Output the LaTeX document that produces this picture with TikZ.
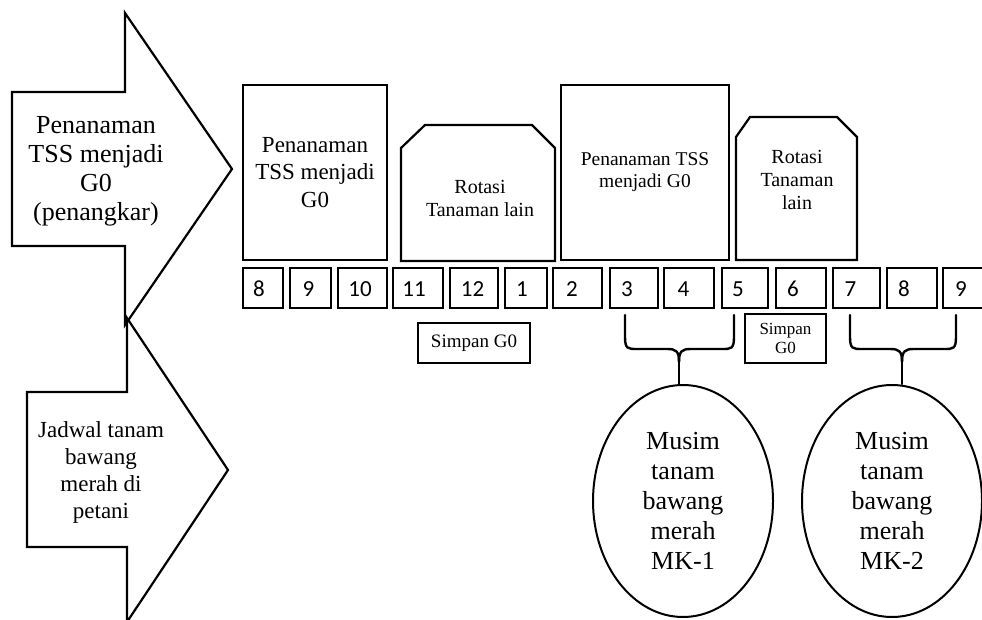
\documentclass[tikz,border=0pt]{standalone}
\usepackage{fontspec}
\setmainfont{Liberation Serif}
\newfontfamily\numfont{Carlito}
\usetikzlibrary{shapes.geometric}
\begin{document}
\begin{tikzpicture}[x=1pt,y=-1pt,line width=2.2pt,line join=miter,
  outl/.style={draw=black,fill=white,line width=2.2pt},
  rectbox/.style={outl,inner sep=0pt,align=center},
  mbox/.style={draw=black,fill=white,minimum height=40pt,inner sep=0pt,line width=2.2pt},
  numtxt/.style={font=\numfont\fontsize{23}{23}\selectfont,inner sep=0pt},
  txt/.style={align=center,inner sep=0pt},
  oval/.style={ellipse,draw=black,fill=white,line width=2pt,minimum width=180pt,minimum height=232pt,inner sep=0pt,align=center,font=\fontsize{26}{30}\selectfont},
  brace/.style={draw=black,line width=2.4pt,line cap=round}]
\fill[white] (0,0) rectangle (982,620);
\useasboundingbox (0,0) rectangle (982,620);
% big arrows
\draw[outl] (12,92) -- (125,92) -- (125,13) -- (232,169) -- (125,325) -- (125,246) -- (12,246) -- cycle;
\node[txt,font=\fontsize{26}{29}\selectfont] (a1t) at (96,171) {Penanaman\\TSS menjadi\\G0\\(penangkar)};
\draw[outl] (27,392) -- (127,392) -- (127,318) -- (228,470) -- (127,622) -- (127,547) -- (27,547) -- cycle;
\node[txt,font=\fontsize{23}{27}\selectfont] (a2t) at (101,472) {Jadwal tanam\\bawang\\merah di\\petani};
% upper boxes
\node[rectbox,minimum width=144pt,minimum height=175pt,font=\fontsize{23}{27.5}\selectfont] (b1) at (315,172.5) {Penanaman\\TSS menjadi\\G0};
\draw[outl] (401,261) -- (401,148) -- (425,125) -- (532,125) -- (555,148) -- (555,261) -- cycle;
\node[txt,font=\fontsize{20}{23}\selectfont] (b2t) at (480,198.5) {Rotasi\\Tanaman lain};
\node[rectbox,minimum width=168pt,minimum height=175pt,font=\fontsize{19.5}{22}\selectfont] (b3) at (645,172.5) {Penanaman TSS\\menjadi G0};
\draw[outl] (736,260) -- (736,137) -- (750,117) -- (837,117) -- (857,137) -- (857,260) -- cycle;
\node[txt,font=\fontsize{20}{23}\selectfont] (b4t) at (797,180) {Rotasi\\Tanaman\\lain};
% month boxes
\foreach \n/\c/\w/\t/\s in {ma/263/40/259/8, mb/310.5/41/308.5/9, mc/362.5/49/360/10, md/418/50/414/11, me/474/48/472.5/12, mf/526/42/522/1, mg/577.5/49/572/2, mh/634/48/627/3, mi/689/50/683.5/4, mj/745/46/738/5, mk/801/50/793/6, ml/856.5/47/850.5/7, mm/912/50/904/8, mn/966.5/47/961/9}{
  \node[mbox,minimum width=\w pt] (\n) at (\c,288) {};
  \node[numtxt] (\n t) at (\t,289) {\s};
}
% simpan boxes
\node[rectbox,minimum width=112pt,minimum height=40pt,font=\fontsize{19}{22}\selectfont] (s1) at (474,343) {Simpan G0};
\node[rectbox,minimum width=81pt,minimum height=49pt,font=\fontsize{17}{19}\selectfont] (s2) at (785.5,338.5) {Simpan\\G0};
% ellipses
\node[oval] (e1) at (683,501) {Musim\\tanam\\bawang\\merah\\MK-1};
\node[oval] (e2) at (892,501) {Musim\\tanam\\bawang\\merah\\MK-2};
% braces
\coordinate (c1) at (679,362);
\coordinate (c2) at (902,362);
\draw[brace] (625,315) -- (625,337) .. controls (625,349) and (628,349) .. (637,349) -- (667,349) .. controls (676,349) and (679,351) .. (c1);
\draw[brace] (734,315) -- (734,337) .. controls (734,349) and (731,349) .. (722,349) -- (691,349) .. controls (682,349) and (679,351) .. (c1);
\draw[brace] (c1) -- (c1 |- e1.north);
\draw[brace] (850,315) -- (850,337) .. controls (850,349) and (853,349) .. (862,349) -- (890,349) .. controls (899,349) and (902,351) .. (c2);
\draw[brace] (956,315) -- (956,337) .. controls (956,349) and (953,349) .. (944,349) -- (914,349) .. controls (905,349) and (902,351) .. (c2);
\draw[brace] (c2) -- (c2 |- e2.north);
\end{tikzpicture}
\end{document}
